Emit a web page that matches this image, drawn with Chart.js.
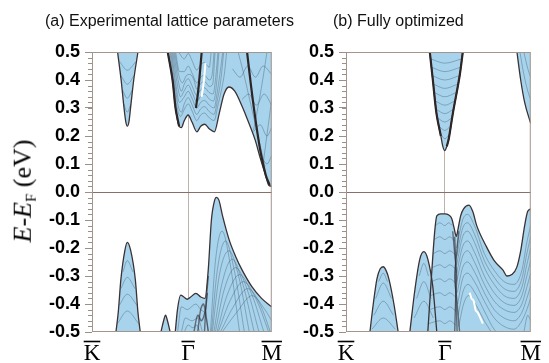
<!DOCTYPE html>
<html>
<head>
<meta charset="utf-8">
<script src="https://cdn.jsdelivr.net/npm/chart.js@4.4.1/dist/chart.umd.min.js"></script>
<style>
  html, body { margin: 0; padding: 0; background: #fff; }
  #page { position: relative; width: 549px; height: 363px; overflow: hidden; }
  canvas { position: absolute; top: 0; }
  #cv-a { left: 0; }
  #cv-b { left: 285px; }
  .panel-title { position: absolute; top: 13px; font: 16px "Liberation Sans", Arial, sans-serif; color: #111; white-space: nowrap; line-height: 16px; }
  #ylabel { position: absolute; left: 24px; top: 191px; transform: translate(-50%, -50%) rotate(-90deg);
            font: 26px "Liberation Serif", "Times New Roman", serif; white-space: nowrap; line-height: 1; color: #000; }
  #ylabel sub { font-size: 15px; vertical-align: -0.3em; }
</style>
</head>
<body>
<div id="page">
  <canvas id="cv-a" width="290" height="363"></canvas>
  <canvas id="cv-b" width="264" height="363"></canvas>
  <div class="panel-title" style="left:45px">(a) Experimental lattice parameters</div>
  <div class="panel-title" style="left:333px">(b) Fully optimized</div>
  <div id="ylabel"><i>E</i>-<i>E</i><sub>F</sub> (eV)</div>
</div>
<script>
// k-path: K = 0, Γ = 1, M = 1.87
const xTickPos = [0, 1, 1.87];
const xTickLabels = ['K', 'Γ', 'M'];
const yMin = -0.5, yMax = 0.5, yStep = 0.1;

// ---- (a) experimental lattice: region boundaries [k, E]
const aCondV = [[0.266,0.5],[0.303,0.4],[0.333,0.3],[0.352,0.25],[0.367,0.235],[0.384,0.25],[0.401,0.3],[0.434,0.4],[0.478,0.5]];
const aCondBig = [[0.788,0.5],[0.838,0.4],[0.869,0.3],[0.906,0.235],[0.929,0.23],[0.960,0.255],[1.0,0.275],[1.04,0.25],[1.091,0.215],[1.131,0.235],[1.172,0.242],[1.222,0.225],[1.273,0.215],[1.323,0.28],[1.374,0.35],[1.424,0.375],[1.485,0.36],[1.562,0.305],[1.616,0.26],[1.697,0.186],[1.747,0.125],[1.798,0.068],[1.838,0.025],[1.869,0.02]];
const aValK = [[0.249,-0.5],[0.273,-0.43],[0.300,-0.314],[0.343,-0.207],[0.367,-0.18],[0.401,-0.207],[0.451,-0.314],[0.478,-0.43],[0.502,-0.5]];
const aValSmall = [[0.717,-0.5],[0.745,-0.46],[0.765,-0.44],[0.785,-0.46],[0.813,-0.5]];
const aValBig = [[0.866,-0.5],[0.889,-0.42],[0.922,-0.368],[0.956,-0.375],[0.990,-0.383],[1.023,-0.376],[1.081,-0.362],[1.131,-0.375],[1.175,-0.38],[1.209,-0.279],[1.242,-0.1],[1.276,-0.029],[1.293,-0.019],[1.320,-0.029],[1.360,-0.088],[1.427,-0.171],[1.495,-0.231],[1.562,-0.279],[1.663,-0.338],[1.764,-0.38],[1.869,-0.41]];

// (a) inner bands
const aInner = [
  [[0.33,0.315],[0.367,0.285],[0.405,0.315]],
  [[0.316,0.365],[0.367,0.335],[0.42,0.365]],
  [[0.302,0.415],[0.367,0.385],[0.437,0.415]],
  [[0.288,0.465],[0.367,0.435],[0.456,0.465]],
  [[0.322,-0.285],[0.367,-0.245],[0.425,-0.285]],
  [[0.300,-0.345],[0.367,-0.305],[0.448,-0.345]],
  [[0.283,-0.405],[0.367,-0.365],[0.468,-0.405]],
  [[0.265,-0.47],[0.367,-0.425],[0.485,-0.47]],
  [[1.232,-0.5],[1.283,-0.25],[1.353,-0.14],[1.434,-0.25],[1.535,-0.5]],
  [[1.242,-0.5],[1.303,-0.28],[1.389,-0.175],[1.48,-0.28],[1.585,-0.5]],
  [[1.252,-0.5],[1.323,-0.30],[1.424,-0.21],[1.525,-0.30],[1.636,-0.5]],
  [[1.268,-0.5],[1.35,-0.33],[1.46,-0.24],[1.57,-0.33],[1.687,-0.5]],
  [[1.283,-0.5],[1.374,-0.35],[1.495,-0.27],[1.616,-0.35],[1.737,-0.5]],
  [[1.30,-0.5],[1.404,-0.37],[1.536,-0.295],[1.667,-0.37],[1.788,-0.5]],
  [[1.313,-0.5],[1.434,-0.39],[1.576,-0.32],[1.717,-0.39],[1.838,-0.5]],
  [[1.335,-0.5],[1.47,-0.41],[1.62,-0.345],[1.76,-0.41],[1.855,-0.5]],
  [[1.353,-0.5],[1.505,-0.43],[1.667,-0.37],[1.798,-0.42],[1.869,-0.46]],
  [[0.89,-0.5],[0.93,-0.41],[0.99,-0.42],[1.08,-0.40],[1.13,-0.42],[1.18,-0.44],[1.21,-0.5]],
  [[0.93,-0.5],[0.97,-0.45],[1.04,-0.46],[1.10,-0.45],[1.15,-0.5]],
  [[0.96,-0.5],[1.0,-0.475],[1.05,-0.485],[1.09,-0.475],[1.12,-0.5]],
  [[0.81,0.5],[0.85,0.39],[0.88,0.31],[0.92,0.27],[0.96,0.295],[1.0,0.315],[1.04,0.29],[1.09,0.255],[1.13,0.275],[1.17,0.282],[1.22,0.265],[1.27,0.255],[1.31,0.31],[1.35,0.37],[1.38,0.43],[1.40,0.5]],
  [[0.82,0.5],[0.86,0.39],[0.895,0.31],[0.93,0.285],[0.96,0.315],[1.0,0.337],[1.04,0.312],[1.09,0.277],[1.13,0.297],[1.17,0.305],[1.22,0.287],[1.27,0.277],[1.305,0.33],[1.34,0.40],[1.37,0.5]],
  [[0.83,0.5],[0.87,0.39],[0.91,0.32],[0.96,0.34],[1.0,0.36],[1.04,0.335],[1.09,0.30],[1.13,0.32],[1.17,0.327],[1.22,0.31],[1.27,0.30],[1.30,0.35],[1.33,0.42],[1.36,0.5]],
  [[0.84,0.5],[0.88,0.40],[0.92,0.34],[0.96,0.362],[1.0,0.382],[1.04,0.357],[1.09,0.322],[1.13,0.342],[1.17,0.35],[1.22,0.332],[1.265,0.325],[1.295,0.385],[1.32,0.5]],
  [[0.85,0.5],[0.89,0.41],[0.93,0.36],[0.96,0.385],[1.0,0.405],[1.04,0.38],[1.09,0.345],[1.13,0.365],[1.17,0.372],[1.22,0.355],[1.26,0.35],[1.29,0.42],[1.31,0.5]],
  [[0.86,0.5],[0.90,0.42],[0.94,0.39],[0.98,0.415],[1.02,0.42],[1.06,0.40],[1.09,0.367],[1.13,0.387],[1.17,0.395],[1.22,0.377],[1.255,0.385],[1.28,0.5]],
  [[0.87,0.5],[0.91,0.43],[0.96,0.43],[1.0,0.45],[1.04,0.425],[1.09,0.39],[1.13,0.41],[1.17,0.417],[1.22,0.40],[1.25,0.42],[1.27,0.5]],
  [[0.90,0.5],[0.96,0.475],[1.0,0.495],[1.04,0.47],[1.09,0.435],[1.13,0.455],[1.17,0.462],[1.22,0.445],[1.24,0.5]],
  [[1.46,0.44],[1.54,0.41],[1.62,0.45],[1.70,0.41],[1.78,0.45],[1.869,0.42]],
  [[1.56,0.33],[1.63,0.35],[1.71,0.31],[1.79,0.35],[1.869,0.31]],
  [[1.68,0.215],[1.75,0.24],[1.82,0.20],[1.869,0.23]],
  [[1.77,0.12],[1.82,0.10],[1.869,0.13]],
  [[1.52,0.5],[1.58,0.42],[1.64,0.33],[1.70,0.24],[1.76,0.15],[1.80,0.09]],
  [[1.68,0.22],[1.73,0.31],[1.78,0.41],[1.82,0.5]],
  [[1.78,0.10],[1.83,0.23],[1.869,0.33]]
];
const aDark = [
  [[1.081,0.30],[1.101,0.35],[1.121,0.42],[1.141,0.5]],
  [[1.613,0.5],[1.654,0.38],[1.704,0.25],[1.755,0.14],[1.808,0.06],[1.848,0.025]],
  [[0.788,0.5],[0.838,0.4],[0.869,0.3],[0.906,0.235]]
];
const aShade = [
  [[1.10,-0.5],[1.13,-0.42],[1.16,-0.40],[1.19,-0.45],[1.21,-0.5]],
  [[1.06,-0.5],[1.10,-0.44],[1.14,-0.46],[1.18,-0.42],[1.20,-0.36]],
  [[1.17,-0.5],[1.19,-0.38],[1.21,-0.30]]
];
const aCrack = [[[1.14,0.34],[1.165,0.40],[1.18,0.46]]];

// ---- (b) fully optimized
const bCondV = [[0.848,0.5],[0.879,0.4],[0.916,0.28],[0.960,0.2],[0.98,0.163],[1.0,0.148],[1.02,0.163],[1.040,0.19],[1.081,0.28],[1.151,0.417],[1.182,0.5]];
const bCondM = [[1.730,0.5],[1.768,0.4],[1.808,0.32],[1.869,0.245]];
const bValK = [[0.242,-0.5],[0.276,-0.4],[0.313,-0.31],[0.345,-0.275],[0.377,-0.267],[0.405,-0.28],[0.434,-0.31],[0.485,-0.4],[0.528,-0.5]];
const bValMid = [[0.646,-0.5],[0.697,-0.35],[0.747,-0.24],[0.788,-0.213],[0.828,-0.24],[0.879,-0.34],[0.919,-0.5]];
const bValBig = [[0.828,-0.5],[0.869,-0.279],[0.899,-0.136],[0.919,-0.085],[0.96,-0.078],[1.0,-0.078],[1.04,-0.082],[1.07,-0.095],[1.095,-0.13],[1.116,-0.158],[1.135,-0.13],[1.16,-0.085],[1.19,-0.06],[1.245,-0.047],[1.283,-0.07],[1.323,-0.12],[1.421,-0.195],[1.50,-0.245],[1.589,-0.279],[1.629,-0.30],[1.677,-0.295],[1.727,-0.27],[1.768,-0.21],[1.808,-0.12],[1.838,-0.07],[1.869,-0.06]];

const bInner = [
  [[0.962,0.205],[1.0,0.19],[1.044,0.205]],
  [[0.94,0.235],[1.0,0.22],[1.058,0.235]],
  [[0.925,0.265],[1.0,0.25],[1.072,0.265]],
  [[0.914,0.295],[1.0,0.28],[1.086,0.295]],
  [[0.905,0.325],[1.0,0.31],[1.10,0.325]],
  [[0.895,0.355],[1.0,0.34],[1.115,0.355]],
  [[0.886,0.385],[1.0,0.37],[1.13,0.385]],
  [[0.877,0.415],[1.0,0.40],[1.143,0.415]],
  [[0.868,0.445],[1.0,0.43],[1.155,0.445]],
  [[0.860,0.475],[1.0,0.46],[1.166,0.475]],
  [[1.76,0.5],[1.80,0.42],[1.84,0.36],[1.869,0.33]],
  [[1.80,0.5],[1.84,0.44],[1.869,0.41]],
  [[0.33,-0.32],[0.377,-0.29],[0.42,-0.32]],
  [[0.30,-0.38],[0.377,-0.325],[0.46,-0.38]],
  [[0.282,-0.44],[0.377,-0.39],[0.48,-0.44]],
  [[0.262,-0.49],[0.377,-0.45],[0.50,-0.49]],
  [[0.74,-0.30],[0.788,-0.255],[0.835,-0.30]],
  [[0.715,-0.38],[0.788,-0.32],[0.86,-0.38]],
  [[0.69,-0.45],[0.788,-0.39],[0.885,-0.45]],
  [[0.906,-0.12],[0.95,-0.11],[1.0,-0.12],[1.04,-0.11],[1.075,-0.12]],
  [[0.891,-0.17],[0.95,-0.16],[1.0,-0.17],[1.05,-0.16],[1.10,-0.175]],
  [[0.882,-0.22],[0.95,-0.21],[1.0,-0.22],[1.05,-0.21],[1.11,-0.225]],
  [[0.872,-0.27],[0.95,-0.26],[1.0,-0.27],[1.05,-0.26],[1.11,-0.275]],
  [[0.864,-0.32],[0.95,-0.31],[1.0,-0.32],[1.05,-0.31],[1.11,-0.325]],
  [[0.855,-0.37],[0.95,-0.36],[1.0,-0.37],[1.05,-0.36],[1.11,-0.375]],
  [[0.846,-0.42],[0.95,-0.41],[1.0,-0.42],[1.05,-0.41],[1.11,-0.425]],
  [[0.837,-0.47],[0.95,-0.46],[1.0,-0.47],[1.05,-0.46],[1.11,-0.475]],
  [[1.12,-0.20],[1.18,-0.10],[1.23,-0.08],[1.30,-0.12],[1.40,-0.22],[1.50,-0.28],[1.60,-0.32],[1.70,-0.33],[1.78,-0.28],[1.83,-0.18],[1.869,-0.12]],
  [[1.12,-0.23],[1.18,-0.13],[1.23,-0.11],[1.30,-0.15],[1.40,-0.245],[1.50,-0.305],[1.60,-0.345],[1.70,-0.355],[1.78,-0.31],[1.83,-0.22],[1.869,-0.16]],
  [[1.12,-0.26],[1.18,-0.16],[1.23,-0.14],[1.30,-0.18],[1.40,-0.27],[1.50,-0.33],[1.60,-0.37],[1.70,-0.38],[1.78,-0.34],[1.83,-0.26],[1.869,-0.20]],
  [[1.12,-0.29],[1.18,-0.195],[1.23,-0.175],[1.30,-0.215],[1.40,-0.30],[1.50,-0.36],[1.60,-0.395],[1.70,-0.405],[1.78,-0.37],[1.83,-0.30],[1.869,-0.245]],
  [[1.12,-0.32],[1.18,-0.23],[1.23,-0.21],[1.30,-0.25],[1.40,-0.33],[1.50,-0.39],[1.60,-0.42],[1.70,-0.43],[1.78,-0.40],[1.83,-0.34],[1.869,-0.29]],
  [[1.125,-0.36],[1.18,-0.27],[1.23,-0.25],[1.30,-0.285],[1.40,-0.36],[1.50,-0.42],[1.60,-0.45],[1.70,-0.46],[1.78,-0.43],[1.83,-0.38],[1.869,-0.335]],
  [[1.13,-0.40],[1.18,-0.31],[1.23,-0.29],[1.30,-0.32],[1.40,-0.39],[1.50,-0.45],[1.60,-0.48],[1.70,-0.49],[1.78,-0.46],[1.83,-0.42],[1.869,-0.38]],
  [[1.135,-0.44],[1.185,-0.355],[1.235,-0.33],[1.305,-0.36],[1.40,-0.425],[1.48,-0.48],[1.52,-0.5]],
  [[1.14,-0.48],[1.19,-0.40],[1.24,-0.37],[1.31,-0.40],[1.40,-0.46],[1.47,-0.5]],
  [[1.80,-0.5],[1.84,-0.44],[1.869,-0.46]]
];
const bDark = [
  [[1.02,0.163],[1.040,0.19],[1.081,0.28],[1.151,0.417],[1.182,0.5]],
  [[0.848,0.5],[0.879,0.4],[0.916,0.28],[0.960,0.2]]
];
const bShade = [
  [[1.08,-0.14],[1.10,-0.22],[1.12,-0.30],[1.11,-0.38],[1.10,-0.5]],
  [[1.14,-0.14],[1.12,-0.22],[1.10,-0.30],[1.12,-0.38],[1.15,-0.5]],
  [[1.10,-0.16],[1.11,-0.25],[1.11,-0.35],[1.12,-0.45],[1.125,-0.5]]
];
const bCrack = [[[1.252,-0.36],[1.27,-0.38],[1.293,-0.39],[1.31,-0.42],[1.333,-0.43],[1.36,-0.45],[1.384,-0.47]]];

const FILL = '#a7d4ec';
const EDGE = '#3a3234';
const INNER = 'rgba(55,70,88,0.5)';
const DARK = '#2e2527';
const SHADE = 'rgba(45,38,45,0.6)';
const FRAME = '#a3958c';
const ZERO = '#85716a';
const GAMMA = '#bdb2ac';
const TICK = '#9c8f88';

function curve(pts) { return pts.map(([x, y]) => ({ x, y })); }

function line(pts, opts) {
    return Object.assign({
        data: curve(pts), fill: false, pointRadius: 0,
        cubicInterpolationMode: 'monotone'
    }, opts);
}

function buildDatasets(p) {
    const ds = [];
    p.cond.forEach(r => ds.push(line(r, { fill: 'end', backgroundColor: FILL, borderWidth: 0, order: 6 })));
    p.val.forEach(r => ds.push(line(r, { fill: 'start', backgroundColor: FILL, borderWidth: 0, order: 6 })));
    p.inner.forEach(r => ds.push(line(r, { borderColor: INNER, borderWidth: 0.7, order: 5 })));
    p.shade.forEach(r => ds.push(line(r, { borderColor: SHADE, borderWidth: 1.4, cubicInterpolationMode: 'default', tension: 0.35, order: 4 })));
    p.cond.concat(p.val).forEach(r => ds.push(line(r, { borderColor: EDGE, borderWidth: 1.3, order: 3 })));
    p.dark.forEach(r => ds.push(line(r, { borderColor: DARK, borderWidth: 2.2, cubicInterpolationMode: 'default', tension: 0.35, order: 2 })));
    p.crack.forEach(r => ds.push(line(r, { borderColor: '#ffffff', borderWidth: 2, order: 1 })));
    return ds;
}

// frame, minor ticks and overbars on k-point labels
const decor = {
    id: 'decor',
    afterDatasetsDraw(chart) {
        const { ctx, chartArea: a, scales: { x, y } } = chart;
        ctx.save();
        ctx.strokeStyle = FRAME;
        ctx.lineWidth = 1;
        ctx.strokeRect(a.left + 0.5, a.top + 0.5, a.right - a.left - 1, a.bottom - a.top - 1);
        ctx.strokeStyle = TICK;
        for (let v = yMin; v <= yMax + 1e-6; v += 0.02) {
            const py = Math.round(y.getPixelForValue(v)) + 0.5;
            ctx.beginPath();
            ctx.moveTo(a.left - 4, py);
            ctx.lineTo(a.left, py);
            ctx.stroke();
        }
        ctx.strokeStyle = '#000';
        ctx.lineWidth = 1.6;
        ctx.font = '23px "Liberation Serif"';
        xTickPos.forEach((v, i) => {
            const px = x.getPixelForValue(v);
            const w = ctx.measureText(xTickLabels[i]).width;
            ctx.beginPath();
            ctx.moveTo(px - w / 2, a.bottom + 9.5);
            ctx.lineTo(px + w / 2, a.bottom + 9.5);
            ctx.stroke();
        });
        ctx.restore();
    }
};

function makePanel(id, panel, yAxisWidth, rightPad) {
    return new Chart(document.getElementById(id), {
        type: 'line',
        data: { datasets: buildDatasets(panel) },
        plugins: [decor],
        options: {
            responsive: false, animation: false, events: [],
            layout: { padding: { top: 52, right: rightPad, bottom: 0, left: 0 } },
            plugins: { legend: { display: false }, tooltip: { enabled: false } },
            scales: {
                x: {
                    type: 'linear', min: xTickPos[0], max: xTickPos[2],
                    afterBuildTicks: s => { s.ticks = xTickPos.map(value => ({ value })); },
                    afterFit: s => { s.height = 31; },
                    border: { display: false },
                    grid: {
                        drawTicks: false,
                        color: c => (c.tick && Math.abs(c.tick.value - 1) < 1e-9) ? GAMMA : 'transparent'
                    },
                    ticks: {
                        autoSkip: false, maxRotation: 0, padding: 8, color: '#000',
                        font: { family: 'Liberation Serif', size: 23 },
                        callback: (v, i) => xTickLabels[i]
                    }
                },
                y: {
                    min: yMin, max: yMax,
                    afterFit: s => { s.width = yAxisWidth; },
                    border: { display: false },
                    grid: {
                        tickLength: 7, tickColor: TICK,
                        color: c => (c.tick && Math.abs(c.tick.value) < 1e-9) ? ZERO : 'transparent'
                    },
                    ticks: {
                        stepSize: yStep, padding: 5, color: '#000',
                        font: { family: 'Liberation Sans', size: 18, weight: 'bold' },
                        callback: v => Math.abs(v) < 1e-9 ? '0.0' : v.toFixed(1)
                    }
                }
            }
        }
    });
}

makePanel('cv-a', { cond: [aCondV, aCondBig], val: [aValK, aValSmall, aValBig], inner: aInner, shade: aShade, dark: aDark, crack: aCrack }, 92, 13);
makePanel('cv-b', { cond: [bCondV, bCondM], val: [bValK, bValMid, bValBig], inner: bInner, shade: bShade, dark: bDark, crack: bCrack }, 61, 18);
</script>
</body>
</html>
